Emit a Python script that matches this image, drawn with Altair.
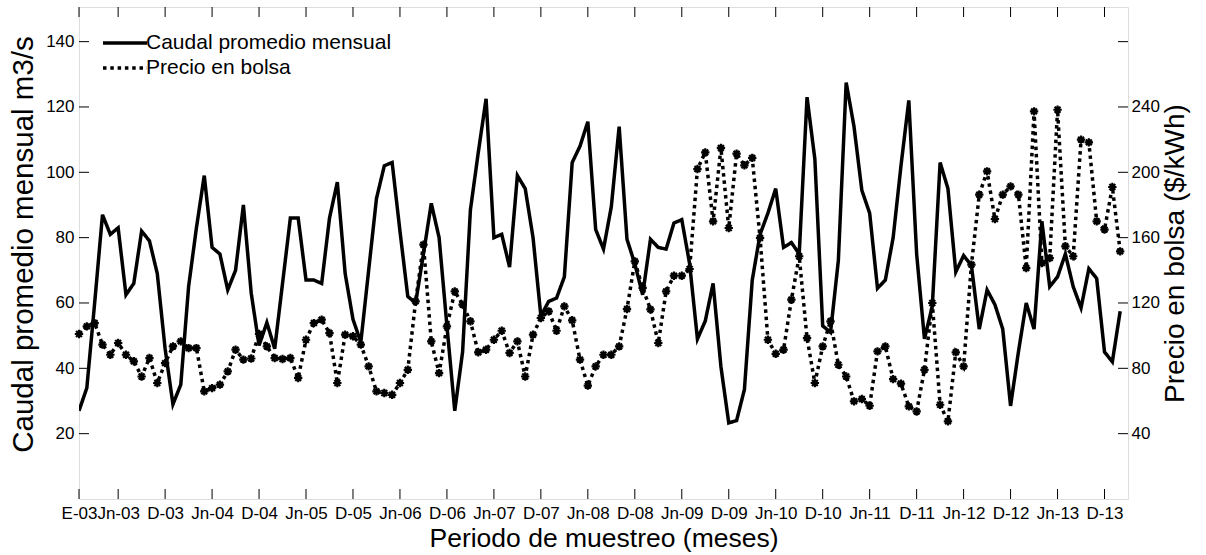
import altair as alt
import pandas as pd
import json

# ---------------- data ----------------
caudal = [27, 34, 60, 87, 81, 83, 62.5, 66, 82, 79, 69, 46, 29, 35, 65, 83, 99, 77, 75, 64,
          70, 90, 63, 47, 54, 46, 66, 86, 86, 67, 67, 66, 86, 97, 69, 55, 48, 70, 92, 102,
          103, 82, 62, 60, 75, 90.5, 80, 53, 27, 45, 88.5, 106, 122.5, 80, 81, 71, 99, 95, 80, 56,
          60.5, 61.5, 68, 103, 108, 115.5, 82.5, 76.5, 89.5, 114, 79.5, 72, 62.5, 79.5, 77, 76.5, 84.5, 85.5, 72, 49,
          54.5, 66, 40.5, 23.3, 24, 33.5, 67, 81, 87.5, 95, 77, 78.5, 75, 123, 104, 53, 51, 73, 127.5, 114,
          94.5, 87.5, 64.5, 67, 80, 102, 122, 75, 49, 59, 103, 95, 69.5, 74.5, 71.5, 52, 64, 59.5, 52, 28.5,
          45, 60, 52, 85, 65, 68, 75, 65, 58.5, 70.5, 67.5, 45, 42, 57.5]
precio = [101, 105.7, 107.7, 94.5, 88.3, 95.5, 88.3, 84.3, 75, 86.3, 71, 83.2, 93.4, 96.5, 92.4, 92.4, 65.9, 67.9, 70, 78.1,
          91.4, 85.3, 86, 101, 93.4, 86.3, 85.7, 86.3, 74.1, 97.5, 107.7, 109.8, 101.6, 71, 100.6, 99.6, 94.5, 81.2, 65.9, 64.9,
          63.8, 71, 79.1, 121, 155.7, 96.5, 77.1, 105.7, 127.1, 119, 108.8, 89.8, 91.4, 97.5, 103, 89.4, 96.5, 75, 100.6, 110.8,
          114.9, 103, 117.9, 109.4, 85.3, 69.4, 81.2, 88.3, 88.3, 93.4, 116.3, 145.5, 129.2, 116.1, 95.5, 127.1, 136.7, 136.7, 140.8, 202,
          212.2, 170, 214.9, 165.9, 211.4, 204.3, 208.8, 159.8, 97.5, 88.9, 91.4, 122, 148.6, 98.5, 71, 93.4, 108.8, 82.2, 75, 59.8,
          61.2, 57.1, 90.4, 93.4, 73.4, 70.6, 56.7, 53.6, 79.1, 120, 57.7, 47.5, 89.8, 81.2, 143.5, 186.3, 200.6, 171.4, 186.3, 191.4,
          186.3, 141.4, 237.3, 144.5, 147.5, 238.3, 154.7, 148.6, 220, 218.3, 170, 164.9, 191, 151.6]
meses = list(range(len(caudal)))

tick_months = [0, 5, 11, 17, 23, 29, 35, 41, 47, 53, 59, 65, 71, 77, 83, 89, 95, 101, 107, 113, 119, 125, 131]
tick_labels = ["E-03", "Jn-03", "D-03", "Jn-04", "D-04", "Jn-05", "D-05", "Jn-06", "D-06", "Jn-07", "D-07",
               "Jn-08", "D-08", "Jn-09", "D-09", "Jn-10", "D-10", "Jn-11", "D-11", "Jn-12", "D-12", "Jn-13", "D-13"]
left_ticks = [20, 40, 60, 80, 100, 120, 140]
right_ticks = [40, 80, 120, 160, 200, 240, 280]
right_labels = [40, 80, 120, 160, 200, 240]

serie_c = "Caudal promedio mensual"
serie_p = "Precio en bolsa"

W, H = 1049, 492
FONT = "Liberation Sans"

df_c = pd.DataFrame({"m": meses, "v": caudal, "serie": serie_c})
df_p = pd.DataFrame({"m": meses, "p": precio, "serie": serie_p})
df_xt = pd.DataFrame({"m": tick_months})
df_lt = pd.DataFrame({"v": left_ticks})
df_rt = pd.DataFrame({"p": right_ticks})

x_scale = alt.Scale(domain=[0, 134], nice=False, zero=False)
yl_scale = alt.Scale(domain=[0, 150.6], nice=False, zero=False)
yr_scale = alt.Scale(domain=[0, 301.2], nice=False, zero=False)
dash_scale = alt.Scale(domain=[serie_c, serie_p], range=[[1, 0], [3.5, 3.8]])

label_expr = "{}[indexof({}, datum.value)]".format(json.dumps(tick_labels), json.dumps(tick_months))

x_axis = alt.Axis(values=tick_months, labelExpr=label_expr, ticks=False, tickSize=0, domain=False,
                  grid=False, labelPadding=6, labelFontSize=17, labelFlush=False, labelOverlap=False,
                  labelColor="black", title="Periodo de muestreo (meses)", titleFontSize=26.5,
                  titleFontWeight="normal", titleColor="black", titlePadding=4)
yl_axis = alt.Axis(values=left_ticks, ticks=False, tickSize=0, domain=False, grid=False,
                   labelPadding=5, labelFontSize=17, labelColor="black",
                   title="Caudal promedio mensual m3/s", titleFontSize=29.5, titleY=237,
                   titleFontWeight="normal", titleColor="black", titlePadding=7)
yr_axis = alt.Axis(orient="right", values=right_labels, ticks=False, tickSize=0, domain=False,
                   grid=False, labelPadding=3, labelFontSize=17, labelColor="black",
                   title="Precio en bolsa ($/kWh)", titleFontSize=28, titleFontWeight="normal",
                   titleColor="black", titleAngle=270, titleBaseline="top", titlePadding=2)

# wide horizontal stroke symbol: spans 2x the nominal symbol size
legend = alt.Legend(title=None, orient="none", legendX=33, legendY=23, symbolType="M-2,0L2,0",
                    symbolSize=484, symbolStrokeWidth=3.5, symbolStrokeColor="black",
                    symbolFillColor="transparent",
                    labelFontSize=21, labelColor="black", labelOffset=8, labelLimit=0,
                    padding=0, rowPadding=2)

X = alt.X("m:Q", scale=x_scale, axis=x_axis)

line_c = alt.Chart(df_c).mark_line(color="black", strokeWidth=3.5, clip=True).encode(
    x=X,
    y=alt.Y("v:Q", scale=yl_scale, axis=yl_axis),
    strokeDash=alt.StrokeDash("serie:N", scale=dash_scale, legend=legend),
)

lt_rule = alt.Chart(df_lt).mark_rule(color="black", strokeWidth=1).encode(
    y=alt.Y("v:Q", scale=yl_scale, axis=yl_axis), x=alt.value(0), x2=alt.value(10))
bt_rule = alt.Chart(df_xt).mark_rule(color="black", strokeWidth=1).encode(
    x=X, y=alt.value(H), y2=alt.value(H - 10))
tt_rule = alt.Chart(df_xt).mark_rule(color="black", strokeWidth=1).encode(
    x=X, y=alt.value(0), y2=alt.value(10))

left = alt.layer(line_c, lt_rule, bt_rule, tt_rule)

line_p = alt.Chart(df_p).mark_line(color="black", strokeWidth=3.5, strokeCap="butt", clip=True).encode(
    x=X,
    y=alt.Y("p:Q", scale=yr_scale, axis=yr_axis),
    strokeDash=alt.StrokeDash("serie:N", scale=dash_scale, legend=legend),
)

star = "M-1,0L1,0M0,-1L0,1M-0.7,-0.7L0.7,0.7M-0.7,0.7L0.7,-0.7"
pts_p = alt.Chart(df_p).mark_point(shape=star, filled=False, color="black", strokeWidth=2.2,
                                   size=70, opacity=1).encode(
    x=X,
    y=alt.Y("p:Q", scale=yr_scale, axis=yr_axis),
)

rt_rule = alt.Chart(df_rt).mark_rule(color="black", strokeWidth=1).encode(
    y=alt.Y("p:Q", scale=yr_scale, axis=yr_axis), x=alt.value(W), x2=alt.value(W - 10))

right = alt.layer(line_p, pts_p, rt_rule)

chart = alt.layer(left, right).resolve_scale(y="independent").properties(
    width=W, height=H,
    autosize=alt.AutoSizeParams(type="none"),
    padding={"left": 79, "top": 7, "right": 78, "bottom": 56},
    background="white",
).configure_view(stroke="black", strokeWidth=2).configure(font=FONT)

chart.save("out.html", embed_options={"renderer": "svg", "actions": False})
